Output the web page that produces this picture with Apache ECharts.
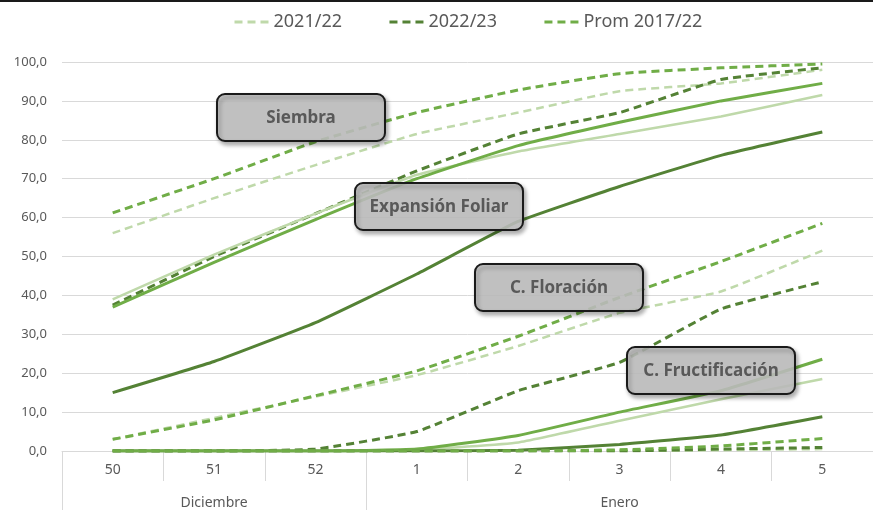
<!DOCTYPE html>
<html>
<head>
<meta charset="utf-8">
<script src="https://cdn.jsdelivr.net/npm/echarts@6/dist/echarts.min.js"></script>
<style>html,body{margin:0;padding:0;background:#fff;}#c{width:873px;height:510px;}</style>
</head>
<body>
<div id="c"></div>
<script>
// ---- data ----
const weeks = ['50', '51', '52', '1', '2', '3', '4', '5'];
const monthNames = ['Diciembre', 'Enero'];
const monthSpans = [3, 5];
const seasonNames = ['2021/22', '2022/23', 'Prom 2017/22'];
const stageNames = ['Siembra', 'Expansión Foliar', 'C. Floración', 'C. Fructificación'];

// Siembra (dashed)
const siembra2122 = [56, 65, 73.5, 81.5, 87, 92.5, 94.5, 98];
const siembra2223 = [37.5, 50, 61, 72, 81.5, 87, 95.5, 98.5];
const siembraProm = [61.2, 70, 79.5, 87, 92.8, 97, 98.5, 99.5];
// Expansión Foliar (solid)
const exp2122 = [39, 50.5, 61, 71, 77, 81.5, 86, 91.5];
const exp2223 = [15, 23, 33, 45.5, 59, 68, 76, 82];
const expProm = [37, 48.5, 59.5, 70, 78.5, 84.5, 90, 94.5];
// C. Floración (dashed)
const flo2122 = [3, 8.5, 14, 19.5, 27, 35.5, 41, 51.5];
const flo2223 = [0, 0, 0.5, 5, 15.5, 22.8, 36.5, 43.5];
const floProm = [3, 8, 14.2, 20.6, 29.5, 39.5, 48.7, 58.5];
// C. Fructificación (solid)
const fru2122 = [0, 0, 0, 0.3, 2.2, 7.8, 13.3, 18.5];
const fru2223 = [0, 0, 0, 0, 0.2, 1.7, 4.1, 8.8];
const fruProm = [0, 0, 0, 0.5, 4, 10, 15.5, 23.6];
// later stage (dashed, near zero)
const mad2122 = [0, 0, 0, 0, 0, 0, 0.2, 0.5];
const mad2223 = [0, 0, 0, 0, 0, 0, 0.5, 0.9];
const madProm = [0, 0, 0, 0, 0, 0.3, 1.3, 3.2];

// ---- styles ----
const colors = ['#bfd9aa', '#548235', '#70ad47'];
const widths = [2.5, 3, 3];
const dash = [8, 5];

function mk(name, idx, data, dashed) {
  return {
    name: name, type: 'line', data: data, xAxisIndex: 0,
    symbol: 'none', showSymbol: false, smooth: 0.12,
    lineStyle: { color: colors[idx], width: widths[idx], type: dashed ? dash : 'solid' },
    itemStyle: { color: colors[idx] },
    emphasis: { disabled: true }
  };
}

const groups = [
  [[siembra2122, siembra2223, siembraProm], true],
  [[exp2122, exp2223, expProm], false],
  [[flo2122, flo2223, floProm], true],
  [[fru2122, fru2223, fruProm], false],
  [[mad2122, mad2223, madProm], true]
];
const series = [];
groups.forEach(g => g[0].forEach((d, i) => series.push(mk(seasonNames[i], i, d, g[1]))));

// month axis labels
const monthLabels = weeks.map(() => '');
const monthStarts = [];
let s = 0;
monthSpans.forEach((n, k) => {
  monthStarts.push(s);
  monthLabels[s + Math.floor((n - 1) / 2)] = monthNames[k];
  s += n;
});

// annotation boxes
const boxes = [[217, 94], [355, 183], [475, 264], [627, 347]];
const graphics = [{ type: 'rect', shape: { x: 0, y: 0, width: 873, height: 2 }, style: { fill: '#1a1a1a' }, z: 100 }];
stageNames.forEach((t, i) => {
  graphics.push({
    type: 'rect', x: boxes[i][0], y: boxes[i][1], z: 100,
    shape: { x: 0, y: 0, width: 168, height: 47, r: 8 },
    style: { fill: 'rgba(194,194,194,0.86)', stroke: '#1a1a1a', lineWidth: 2,
             shadowBlur: 4, shadowOffsetX: 2, shadowOffsetY: 3, shadowColor: 'rgba(0,0,0,0.35)' }
  });
  graphics.push({
    type: 'text', x: boxes[i][0] + 84, y: boxes[i][1] + 24, z: 101,
    style: { text: t, fill: '#595959', font: 'bold 17px "Noto Sans", sans-serif', align: 'center', verticalAlign: 'middle' }
  });
});

const chart = echarts.init(document.getElementById('c'), null, { renderer: 'canvas' });
chart.setOption({
  animation: false,
  backgroundColor: '#ffffff',
  textStyle: { fontFamily: '"Noto Sans", sans-serif' },
  legend: {
    left: 228, top: 8, itemWidth: 34, itemHeight: 14, itemGap: 46,
    data: seasonNames,
    itemStyle: { opacity: 0 },
    lineStyle: { width: 3 },
    textStyle: { fontSize: 18, color: '#595959' }
  },
  grid: { left: 62, right: -8, top: 62, bottom: 58, containLabel: false },
  xAxis: [
    {
      type: 'category', data: weeks, position: 'bottom', boundaryGap: true,
      axisLine: { lineStyle: { color: '#d9d9d9', width: 1 } },
      axisTick: { show: true, interval: 0, length: 30, lineStyle: { color: '#d9d9d9' } },
      axisLabel: { interval: 0, margin: 12, fontSize: 14, color: '#595959' },
      splitLine: { show: false }
    },
    {
      type: 'category', data: monthLabels, position: 'bottom', offset: 0, boundaryGap: true,
      axisLine: { show: false },
      axisTick: { show: true, length: 62, interval: (i) => monthStarts.indexOf(i) >= 0, lineStyle: { color: '#d9d9d9' } },
      axisLabel: { interval: 0, margin: 45, fontSize: 14, color: '#595959' },
      splitLine: { show: false }
    }
  ],
  yAxis: {
    type: 'value', min: 0, max: 100, interval: 10,
    axisLine: { show: false }, axisTick: { show: false },
    axisLabel: { margin: 15, fontSize: 13, color: '#595959', formatter: v => v.toFixed(1).replace('.', ',') },
    splitLine: { lineStyle: { color: '#d9d9d9', width: 1 } }
  },
  series: series,
  graphic: graphics
});
</script>
</body>
</html>
